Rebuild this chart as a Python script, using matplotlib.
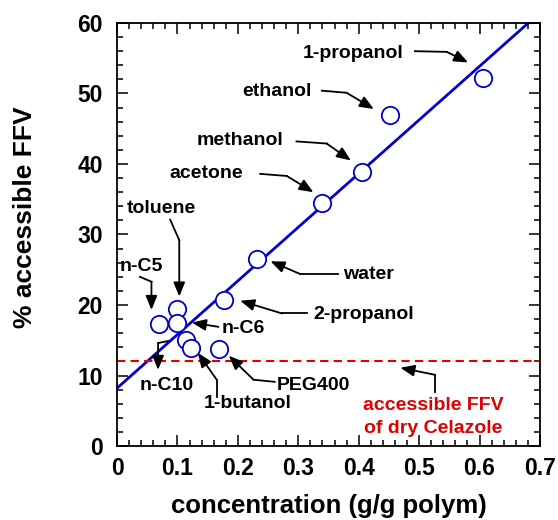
import matplotlib.pyplot as plt
from matplotlib.ticker import MultipleLocator, FormatStrFormatter

plt.rcParams['font.family'] = ['Liberation Sans', 'DejaVu Sans']
plt.rcParams['font.weight'] = 'bold'

solvents = ['1-propanol', 'ethanol', 'methanol', 'acetone', 'water',
            '2-propanol', 'toluene', 'n-C5', 'n-C6', 'n-C10',
            '1-butanol', 'PEG400']
concentration = [0.606, 0.451, 0.405, 0.340, 0.231, 0.177, 0.100, 0.070,
                 0.100, 0.114, 0.122, 0.169]
accessible_ffv = [52.2, 47.0, 38.9, 34.4, 26.5, 20.7, 19.5, 17.3, 17.4,
                  15.0, 13.9, 13.7]

fit_intercept = 8.2
fit_slope = 76.1
dry_ffv = 12.0

# label text position and arrow path (last point = arrow head)
labels = {
    '1-propanol': ((0.391, 55.7), [(0.493, 56.0), (0.546, 55.9), (0.581, 54.4)]),
    'ethanol': ((0.264, 50.3), [(0.339, 50.4), (0.380, 50.1), (0.425, 47.8)]),
    'methanol': ((0.204, 43.4), [(0.297, 43.2), (0.347, 42.9), (0.387, 40.5)]),
    'acetone': ((0.147, 38.7), [(0.237, 38.6), (0.281, 38.3), (0.325, 36.0)]),
    'toluene': ((0.074, 33.7), [(0.088, 32.1), (0.103, 29.2), (0.103, 21.2)]),
    'n-C5': ((0.041, 25.5), [(0.038, 24.0), (0.057, 23.3), (0.057, 19.3)]),
    'n-C6': ((0.209, 16.6), [(0.168, 16.9), (0.124, 17.5)]),
    'water': ((0.416, 24.3), [(0.366, 24.4), (0.303, 24.4), (0.254, 26.2)]),
    '2-propanol': ((0.408, 18.6), [(0.314, 18.8), (0.273, 18.8), (0.204, 20.6)]),
    'n-C10': ((0.082, 8.65), [(0.085, 14.9), (0.068, 14.6), (0.068, 10.8)]),
    '1-butanol': ((0.217, 6.05), [(0.165, 7.0), (0.165, 9.4), (0.134, 13.2)]),
    'PEG400': ((0.325, 8.65), [(0.261, 9.1), (0.226, 9.4), (0.185, 12.8)]),
}


def draw_arrow(ax, path, color='black'):
    if len(path) > 2:
        xs = [p[0] for p in path[:-1]]
        ys = [p[1] for p in path[:-1]]
        ax.plot(xs, ys, color=color, lw=1.3, zorder=4)
    ax.annotate('', xy=path[-1], xytext=path[-2],
                arrowprops=dict(arrowstyle='-|>,head_length=0.85,head_width=0.35',
                                color=color, lw=1.3, shrinkA=0, shrinkB=0),
                zorder=4)


fig = plt.figure(figsize=(5.58, 5.2), dpi=100)
ax = fig.add_axes([0.2097, 0.1423, 0.758, 0.8135])

xs = [0, 0.7]
ax.plot(xs, [fit_intercept + fit_slope * x for x in xs], color='#0000cc',
        lw=2.0, zorder=2)
ax.axhline(dry_ffv, color='#e00000', lw=1.5, ls=(0, (4, 2.5)), zorder=2)
ax.plot(concentration, accessible_ffv, 'o', ms=12.5, mfc='white',
        mec='#0000cc', mew=1.3, zorder=3)

for name, (txt, path) in labels.items():
    ax.text(txt[0], txt[1], name, ha='center', va='center', fontsize=14,
            fontweight='bold', zorder=5)
    draw_arrow(ax, path)

ax.text(0.524, 5.7, 'accessible FFV', color='#e00000', ha='center',
        va='center', fontsize=14, fontweight='bold')
ax.text(0.524, 2.55, 'of dry Celazole', color='#e00000', ha='center',
        va='center', fontsize=14, fontweight='bold')
draw_arrow(ax, [(0.526, 7.6), (0.526, 10.1), (0.469, 11.1)])

ax.set_xlim(0, 0.7)
ax.set_ylim(0, 60)
ax.xaxis.set_major_locator(MultipleLocator(0.1))
ax.xaxis.set_minor_locator(MultipleLocator(0.02))
ax.xaxis.set_major_formatter(FormatStrFormatter('%g'))
ax.yaxis.set_major_locator(MultipleLocator(10))
ax.yaxis.set_minor_locator(MultipleLocator(2))
ax.tick_params(which='both', direction='in', top=True, right=True,
               labelsize=16.5, width=1.1)
ax.tick_params(which='major', length=8)
ax.tick_params(axis='x', which='major', pad=8)
ax.tick_params(axis='y', which='major', pad=10)
ax.tick_params(which='minor', length=4)
for lab in ax.get_xticklabels() + ax.get_yticklabels():
    lab.set_fontweight('bold')
for s in ax.spines.values():
    s.set_linewidth(1.3)

ax.set_xlabel('concentration (g/g polym)', fontsize=18.5, fontweight='bold',
              labelpad=10)
ax.set_ylabel('% accessible FFV', fontsize=19, fontweight='bold')
ax.yaxis.set_label_coords(-0.19, 0.54)

fig.savefig('out.png', dpi=100)
